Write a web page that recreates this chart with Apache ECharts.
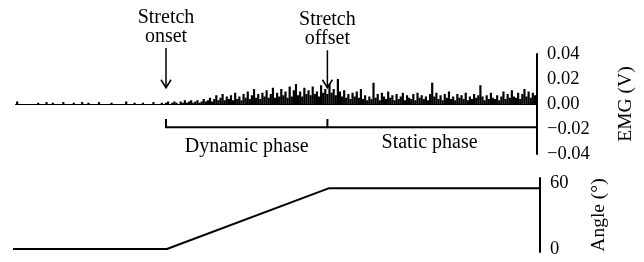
<!DOCTYPE html>
<html>
<head>
<meta charset="utf-8">
<script src="https://cdn.jsdelivr.net/npm/echarts@6/dist/echarts.min.js"></script>
<style>
html, body { margin: 0; padding: 0; background: #fff; }
#chart { width: 644px; height: 262px; }
</style>
</head>
<body>
<div id="chart"></div>
<script>
// EMG trace in mV, one sample every 0.04 s
const samplePeriod = 0.04
const emgRest = [
    0, 0, 2, 0, 0, 0, 0, 0, 0, 0,
    0, 0, 1, 0, 0, 0, 1.5, 0, 0, 1,
    0, 0, 0, 0, 1.5, 0, 0, 0, 0, 1,
    0, 0, 0, 1.5, 0, 0, 1, 0, 0, 0,
    0, 1.5, 0, 0, 0, 0, 0, 1, 0, 0,
    0, 0, 0, 0, 2, 0, 0, 0, 1, 0,
    0, 0, 1, 0, 0, 0, 0, 1.5, 0, 0,
    0, 1, 0
]
const emgDynamic = [
    1, 2, 0, 1, 2, 1, 0, 2, 1, 3,
    1, 2, 3, 1, 2, 3, 1, 2, 4, 2,
    3, 5, 2, 4, 7, 3, 5, 8, 3, 6,
    4, 7, 3, 9, 4, 6, 3, 8, 5, 10,
    4, 7, 12, 5, 8, 4, 9, 6, 11, 5,
    8, 13, 5, 9, 6, 12, 7, 10, 5, 14,
    6, 11, 16, 7, 10, 6, 13, 8, 11, 7,
    14, 8, 10, 6, 15, 9, 12
]
const emgStatic = [
    8, 16, 9, 12, 7, 20, 10, 6, 11, 5,
    8, 4, 9, 6, 10, 5, 12, 4, 7, 3,
    6, 4, 17, 5, 8, 3, 9, 6, 4, 10,
    5, 7, 3, 8, 4, 6, 9, 3, 7, 5,
    4, 8, 3, 9, 5, 7, 4, 6, 3, 8,
    17, 6, 9, 4, 7, 3, 8, 5, 10, 4,
    6, 3, 8, 5, 7, 4, 9, 3, 6, 4,
    8, 5, 7, 15, 6, 3, 7, 4, 9, 5,
    4, 7, 3, 6, 10, 4, 8, 5, 11, 6,
    5, 9, 4, 8, 12, 6, 10, 5, 9, 7
]

// knee angle (degrees)
const stretchOnset = 2.92
const stretchOffset = 6.0
const trialEnd = 10
const angleTimes = [0, stretchOnset, stretchOffset, trialEnd]
const angleValues = [0, 0, 60, 60]

const angleLabels = [0, 60]

const font = '"Liberation Serif", "DejaVu Serif", serif'

const emgData = emgRest.concat(emgDynamic, emgStatic).map((v, i) => [i * samplePeriod, v / 1000])
const angleData = angleTimes.map((t, i) => [t, angleValues[i]])

const chart = echarts.init(document.getElementById('chart'))

const axisText = { color: '#000', fontFamily: font, fontSize: 18.5 }
const axisLine = { show: true, onZero: false, lineStyle: { color: '#000', width: 2 } }

chart.setOption({
    animation: false,
    grid: [
        { left: 13, right: 102, top: 54, height: 100 },
        { left: 13, right: 104, top: 178, bottom: 10 }
    ],
    xAxis: [
        { gridIndex: 0, type: 'value', min: 0, max: trialEnd, show: false },
        { gridIndex: 1, type: 'value', min: 0, max: trialEnd, show: false }
    ],
    yAxis: [
        {
            gridIndex: 0,
            type: 'value',
            position: 'right',
            min: -0.04,
            max: 0.04,
            interval: 0.02,
            axisLine,
            axisTick: { show: false },
            splitLine: { show: false },
            axisLabel: {
                ...axisText,
                margin: 10,
                formatter: v => (v < 0 ? '\u2212' : '') + Math.abs(v).toFixed(2)
            },
            name: 'EMG (V)',
            nameLocation: 'middle',
            nameRotate: 90,
            nameGap: 79,
            nameTextStyle: { color: '#000', fontFamily: font, fontSize: 19.5 }
        },
        {
            gridIndex: 1,
            type: 'value',
            position: 'right',
            min: -3,
            max: 70,
            axisLine,
            axisTick: { show: false },
            splitLine: { show: false },
            axisLabel: {
                ...axisText,
                margin: 10,
                customValues: angleLabels,
                formatter: v => (v > 0 ? '{hi|' + v + '}' : String(v)),
                rich: { hi: { ...axisText, padding: [0, 0, 9, 0] } }
            },
            name: 'Angle (\u00b0)',
            nameLocation: 'middle',
            nameRotate: 90,
            nameGap: 49,
            nameTextStyle: { color: '#000', fontFamily: font, fontSize: 19.5 }
        }
    ],
    series: [
        {
            type: 'bar',
            xAxisIndex: 0,
            yAxisIndex: 0,
            data: emgData,
            barWidth: 2.2,
            itemStyle: { color: '#000' },
            markLine: {
                silent: true,
                symbol: 'none',
                label: { show: false },
                lineStyle: { color: '#000', width: 1, type: 'solid' },
                data: [[{ coord: [0.04, 0] }, { coord: [trialEnd, 0] }]]
            }
        },
        {
            type: 'line',
            xAxisIndex: 1,
            yAxisIndex: 1,
            data: angleData,
            symbol: 'none',
            lineStyle: { color: '#000', width: 2 }
        }
    ]
})

// annotations placed through the EMG axes
const toPx = (t, v) => chart.convertToPixel({ xAxisIndex: 0, yAxisIndex: 0 }, [t, v])
const stroke = { stroke: '#000', lineWidth: 1.5 }
const textStyle = (text, x, y, valign) => ({
    type: 'text',
    x,
    y,
    style: { text, fill: '#000', font: '20px ' + font, align: 'center', verticalAlign: valign, lineHeight: 19 }
})

const graphic = []
;[[stretchOnset, 0.0448, 'Stretch\nonset'], [stretchOffset, 0.043, 'Stretch\noffset']].forEach(([t, top, label]) => {
    const a = toPx(t, top)
    const b = toPx(t, 0.013)
    graphic.push({ type: 'line', shape: { x1: a[0], y1: a[1], x2: b[0], y2: b[1] }, style: stroke })
    graphic.push({ type: 'polyline', shape: { points: [[b[0] - 5, b[1] - 8], b, [b[0] + 5, b[1] - 8]] }, style: { ...stroke, fill: null } })
    graphic.push(textStyle(label, a[0], a[1] - 2, 'bottom'))
})

const bracketY = -0.0185
const l = toPx(stretchOnset, bracketY)
const r = toPx(trialEnd, bracketY)
graphic.push({ type: 'line', shape: { x1: l[0], y1: l[1], x2: r[0], y2: r[1] }, style: { stroke: '#000', lineWidth: 2 } })
;[stretchOnset, stretchOffset].forEach(t => {
    const a = toPx(t, -0.012)
    const b = toPx(t, bracketY)
    graphic.push({ type: 'line', shape: { x1: a[0], y1: a[1], x2: b[0], y2: b[1] + 1 }, style: { stroke: '#000', lineWidth: 2 } })
})
const dyn = toPx((stretchOnset + stretchOffset) / 2, -0.0344)
const sta = toPx((stretchOffset + trialEnd) / 2 - 0.05, -0.0312)
graphic.push(textStyle('Dynamic phase', dyn[0], dyn[1], 'middle'))
graphic.push(textStyle('Static phase', sta[0], sta[1], 'middle'))

chart.setOption({ graphic })
</script>
</body>
</html>
